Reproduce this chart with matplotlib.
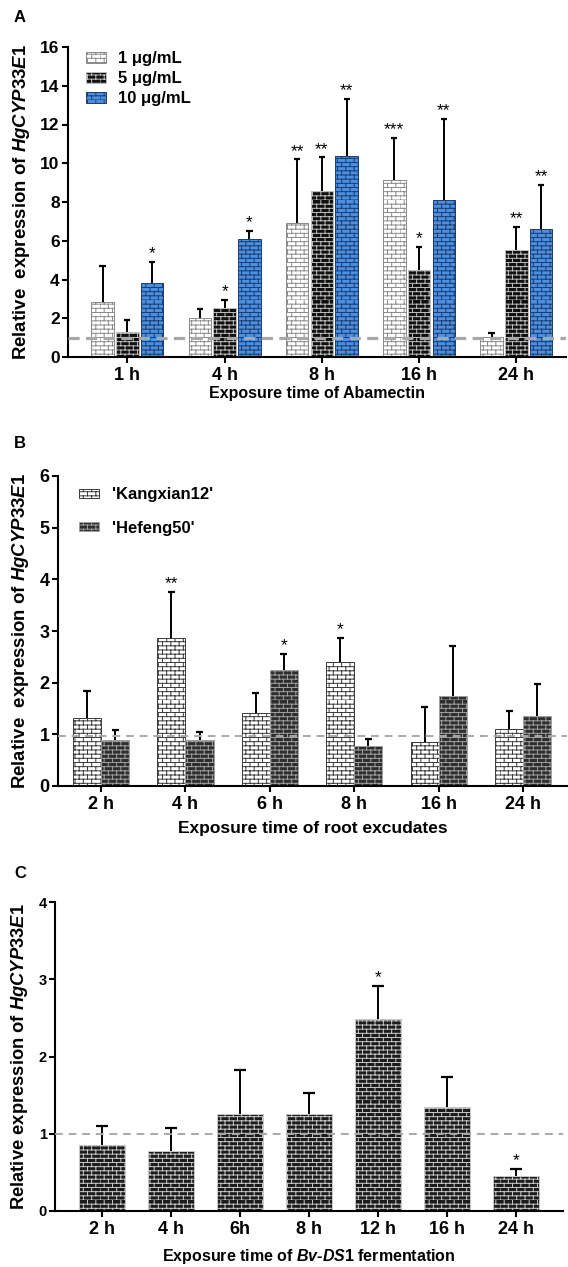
import numpy as np
import matplotlib
matplotlib.use("Agg")
import matplotlib.pyplot as plt
from matplotlib import hatch as mhatch
from matplotlib.patches import Patch
from matplotlib.path import Path

plt.rcParams['font.family'] = ['Liberation Sans', 'DejaVu Sans']
plt.rcParams['font.weight'] = 'bold'
plt.rcParams['mathtext.fontset'] = 'custom'
plt.rcParams['mathtext.it'] = 'Liberation Sans:italic:bold'
plt.rcParams['mathtext.rm'] = 'Liberation Sans:bold'
plt.rcParams['hatch.linewidth'] = 0.7


# brick hatch: '+' count sets the number of brick rows
class Bricks(mhatch.HatchPatternBase):
    def __init__(self, hatch, density):
        self.n = int(hatch.count('+') * density)
        self.n += self.n % 2
        self.m = max(self.n // 2, 1)
        self.num_vertices = self.n * (2 + 2 * self.m) if self.n else 0

    def set_vertices_and_codes(self, vertices, codes):
        k = 0
        for i in range(self.n):
            y = i / self.n
            vertices[k] = (0, y)
            vertices[k + 1] = (1, y)
            codes[k] = Path.MOVETO
            codes[k + 1] = Path.LINETO
            k += 2
            for j in range(self.m):
                x = (j + 0.5 * (i % 2)) / self.m
                vertices[k] = (x, y)
                vertices[k + 1] = (x, y + 1 / self.n)
                codes[k] = Path.MOVETO
                codes[k + 1] = Path.LINETO
                k += 2


mhatch._hatch_types = [Bricks]
BRICK = '++++'

# ---- panel A: abamectin ----
a_times = ['1 h', '4 h', '8 h', '16 h', '24 h']
a_labels = ['1 \u03bcg/mL', '5 \u03bcg/mL', '10 \u03bcg/mL']
a_mean = [[2.85, 2.0, 6.9, 9.14, 1.05],
          [1.3, 2.55, 8.56, 4.5, 5.5],
          [3.8, 6.1, 10.4, 8.1, 6.6]]
a_top = [[4.7, 2.5, 10.2, 11.3, 1.25],
         [1.9, 2.95, 10.3, 5.7, 6.7],
         [4.9, 6.5, 13.3, 12.3, 8.9]]
a_stars = [['', '', '**', '***', ''],
           ['', '*', '**', '*', '**'],
           ['*', '*', '**', '**', '**']]

# ---- panel B: root exudates ----
b_times = ['2 h', '4 h', '6 h', '8 h', '16 h', '24 h']
b_labels = ["'Kangxian12'", "'Hefeng50'"]
b_mean = [[1.31, 2.86, 1.41, 2.40, 0.85, 1.10],
          [0.89, 0.89, 2.24, 0.77, 1.74, 1.35]]
b_top = [[1.84, 3.75, 1.80, 2.87, 1.53, 1.45],
         [1.08, 1.05, 2.55, 0.91, 2.71, 1.97]]
b_stars = [['', '**', '', '*', '', ''],
           ['', '', '*', '', '', '']]

# ---- panel C: Bv-DS1 fermentation ----
c_times = ['2 h', '4 h', '6h', '8 h', '12 h', '16 h', '24 h']
c_mean = [0.86, 0.78, 1.26, 1.26, 2.49, 1.35, 0.45]
c_top = [1.10, 1.07, 1.83, 1.53, 2.91, 1.73, 0.54]
c_stars = ['', '', '', '', '*', '', '*']

W, H = 568, 1267
fig = plt.figure(figsize=(W / 100, H / 100), dpi=100)


def style_axes(ax, xsize, ysize):
    for s in ['top', 'right']:
        ax.spines[s].set_visible(False)
    for s in ['left', 'bottom']:
        ax.spines[s].set_linewidth(1.5)
    ax.tick_params(width=1.5, length=4, direction='out')
    ax.tick_params(axis='x', labelsize=xsize, pad=3)
    ax.tick_params(axis='y', labelsize=ysize, pad=2)
    for lab in ax.get_xticklabels() + ax.get_yticklabels():
        lab.set_fontweight('bold')


def set_labels(ax, xlabel, ylabel, xsize, ysize, xpos, ypos):
    ax.set_xlabel(xlabel, fontsize=xsize, fontweight='bold', va='center')
    ax.set_ylabel(ylabel, fontsize=ysize, fontweight='bold', va='center')
    ax.xaxis.set_label_coords(0.5, xpos)
    ax.yaxis.set_label_coords(ypos, 0.5)


def draw_bars(ax, x, mean, top, stars, width, face, edge, cap, star_size):
    ax.bar(x, mean, width, color=face, edgecolor=edge, linewidth=0.7,
           hatch=BRICK, zorder=2)
    ax.vlines(x, mean, top, color='black', lw=1.4, zorder=3)
    ax.hlines(top, x - cap, x + cap, color='black', lw=1.6, zorder=3)
    for xi, t, s in zip(x, top, stars):
        if s:
            ax.annotate(s, (xi, t), xytext=(0, 0.5), textcoords='offset points',
                        ha='center', va='bottom', fontsize=star_size,
                        fontweight='normal')


ylab = 'Relative  expression of $\\mathit{HgCYP33E1}$'

# panel A
axA = fig.add_axes([68 / W, 1 - 357 / H, 498 / W, 310 / H])
xa = np.arange(len(a_times))
a_face = ['white', '#111111', '#4a8fe0']
a_edge = ['#8a8a8a', '#bdbdbd', '#1c3b70']
offs = [-0.255, 0, 0.255]
for k in range(3):
    draw_bars(axA, xa + offs[k], a_mean[k], a_top[k], a_stars[k], 0.23,
              a_face[k], a_edge[k], 0.032, 12.5)
axA.axhline(1, color='#a8a8a8', lw=2.3, ls=(0, (3.5, 2)), zorder=4)
axA.set_xlim(-0.61, 4.51)
axA.set_ylim(0, 16)
axA.set_yticks(range(0, 17, 2))
axA.set_xticks(xa, a_times)
style_axes(axA, 13, 12.5)
set_labels(axA, 'Exposure time of Abamectin', ylab, 11.5, 13.4,
           (357 - 393) / 310, (22 - 68) / 498)
handles = [Patch(facecolor=a_face[k], edgecolor=a_edge[k], hatch=BRICK,
                 linewidth=0.7, label=a_labels[k]) for k in range(3)]
axA.legend(handles=handles, loc='upper left', bbox_to_anchor=(0.006, 1.035),
           frameon=False, prop={'weight': 'bold', 'size': 12},
           handlelength=1.2, handleheight=0.6, labelspacing=0.3,
           handletextpad=0.75)

# panel B
axB = fig.add_axes([58 / W, 1 - 786 / H, 509 / W, 310 / H])
xb = np.arange(len(b_times))
b_face = ['white', '#2e2e2e']
b_edge = ['#3a3a3a', '#a0a0a0']
for k in range(2):
    draw_bars(axB, xb + (k - 0.5) * 0.333, b_mean[k], b_top[k], b_stars[k],
              0.333, b_face[k], b_edge[k], 0.042, 12.5)
axB.axhline(0.97, color='#a8a8a8', lw=1.4, ls=(0, (4, 3)), zorder=4)
axB.set_xlim(-0.51, 5.52)
axB.set_ylim(0, 6)
axB.set_yticks(range(0, 7))
axB.set_xticks(xb, b_times)
style_axes(axB, 13, 13)
set_labels(axB, 'Exposure time of root excudates', ylab, 12.5, 13.4,
           (786 - 828) / 310, (21 - 58) / 509)
handles = [Patch(facecolor=b_face[k], edgecolor=b_edge[k], hatch=BRICK,
                 linewidth=0.7, label=b_labels[k]) for k in range(2)]
axB.legend(handles=handles, loc='upper left', bbox_to_anchor=(0.012, 1.012),
           frameon=False, prop={'weight': 'bold', 'size': 12},
           handlelength=1.2, handleheight=0.5, labelspacing=1.1,
           handletextpad=0.8)

# panel C
axC = fig.add_axes([55 / W, 1 - 1211 / H, 508 / W, 309 / H])
xc = np.arange(len(c_times))
draw_bars(axC, xc, c_mean, c_top, c_stars, 0.667, '#1c1c1c', '#c8c8c8',
          0.087, 12.5)
axC.axhline(1, color='#a8a8a8', lw=1.4, ls=(0, (4, 3)), zorder=4)
axC.set_xlim(-0.68, 6.68)
axC.set_ylim(0, 4)
axC.set_yticks(range(0, 5))
axC.set_xticks(xc, c_times)
style_axes(axC, 13, 10.5)
set_labels(axC, 'Exposure time of $\\mathit{Bv}$-$\\mathit{DS1}$ fermentation',
           'Relative expression of $\\mathit{HgCYP33E1}$', 11.5, 13.2,
           (1211 - 1257) / 309, (20 - 55) / 508)

for lab, y in [('A', 18), ('B', 444), ('C', 874)]:
    fig.text(20 / W, 1 - y / H, lab, fontsize=12, fontweight='bold',
             ha='center', va='center')

fig.savefig('out.png', dpi=100)
